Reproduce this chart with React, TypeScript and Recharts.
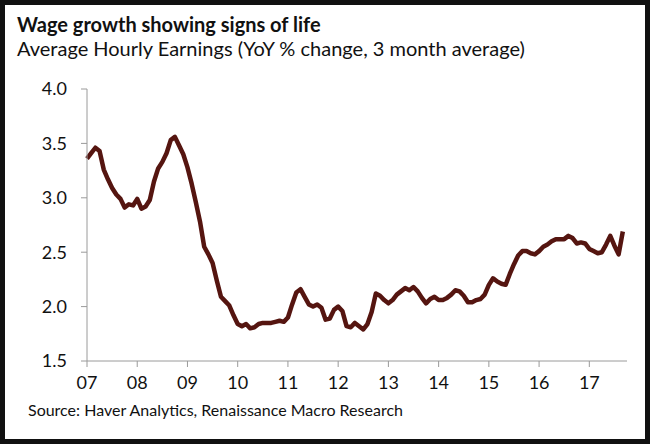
import { LineChart, Line, XAxis, YAxis } from "recharts";

// Average Hourly Earnings, YoY % change, 3 month average — monthly, Jan 2007 .. Sep 2017
const wageGrowth = [
  3.36, 3.41, 3.46, 3.43, 3.26, 3.17, 3.09, 3.03, 2.99, 2.91, 2.94, 2.93,
  2.99, 2.9, 2.92, 2.98, 3.15, 3.27, 3.33, 3.41, 3.53, 3.56, 3.48, 3.4,
  3.28, 3.13, 2.96, 2.78, 2.55, 2.48, 2.4, 2.24, 2.09, 2.05, 2.01, 1.92,
  1.84, 1.82, 1.84, 1.8, 1.81, 1.84, 1.85, 1.85, 1.85, 1.86, 1.87, 1.86,
  1.9, 2.02, 2.13, 2.16, 2.09, 2.02, 2.0, 2.02, 1.99, 1.88, 1.89, 1.97,
  2.0, 1.96, 1.82, 1.81, 1.85, 1.82, 1.79, 1.84, 1.95, 2.12, 2.1, 2.06,
  2.03, 2.06, 2.11, 2.14, 2.17, 2.15, 2.18, 2.14, 2.08, 2.03, 2.07, 2.09,
  2.06, 2.06, 2.08, 2.11, 2.15, 2.14, 2.1, 2.04, 2.04, 2.06, 2.07, 2.11,
  2.2, 2.26, 2.23, 2.21, 2.2, 2.3, 2.39, 2.47, 2.51, 2.51, 2.49, 2.48,
  2.51, 2.55, 2.57, 2.6, 2.62, 2.62, 2.62, 2.65, 2.63, 2.58, 2.59, 2.58,
  2.53, 2.51, 2.49, 2.5, 2.57, 2.65, 2.56, 2.48, 2.69,
];

// x ticks sit at every January (month index), labelled with the year
const yearTicks = [0, 12, 24, 36, 48, 60, 72, 84, 96, 108, 120];
const yearLabels = ["07", "08", "09", "10", "11", "12", "13", "14", "15", "16", "17"];
const valueTicks = [1.5, 2.0, 2.5, 3.0, 3.5, 4.0];

const data = wageGrowth.map((v, i) => ({ month: i, value: v }));

const font = "Lato, 'Open Sans', sans-serif";
const axisColor = "#9a9a9a";

export default function App() {
  return (
    <div
      style={{
        position: "absolute",
        left: 0,
        top: 0,
        width: 650,
        height: 444,
        boxSizing: "border-box",
        border: "5px solid #111",
        background: "#fff",
        fontFamily: font,
        color: "#111",
      }}
    >
      <div style={{ position: "absolute", left: 12, top: 7, fontSize: 20, fontWeight: 700, lineHeight: "24px" }}>
        Wage growth showing signs of life
      </div>
      <div style={{ position: "absolute", left: 12, top: 31, fontSize: 20, lineHeight: "24px" }}>
        Average Hourly Earnings (YoY % change, 3 month average)
      </div>
      <div style={{ position: "absolute", left: 0, top: 0 }}>
        <LineChart
          width={640}
          height={434}
          data={data}
          margin={{ top: 84, right: 18, bottom: 48, left: 22 }}
        >
          <XAxis
            dataKey="month"
            type="number"
            domain={[0, 129]}
            ticks={yearTicks}
            tickFormatter={(m) => yearLabels[yearTicks.indexOf(m)]}
            interval={0}
            height={30}
            stroke={axisColor}
            tickSize={6}
            tickMargin={9}
            tick={{ fill: "#111", fontSize: 18, fontFamily: font }}
          />
          <YAxis
            type="number"
            domain={[1.5, 4.0]}
            ticks={valueTicks}
            tickFormatter={(v) => v.toFixed(1)}
            width={60}
            stroke={axisColor}
            tickSize={6}
            tickMargin={14}
            tick={{ fill: "#111", fontSize: 18, fontFamily: font }}
          />
          <Line
            type="linear"
            dataKey="value"
            stroke="#551510"
            strokeWidth={4.5}
            strokeLinejoin="round"
            dot={false}
            isAnimationActive={false}
          />
        </LineChart>
      </div>
      <div style={{ position: "absolute", left: 23, top: 395, fontSize: 16, lineHeight: "20px" }}>
        Source: Haver Analytics, Renaissance Macro Research
      </div>
    </div>
  );
}
